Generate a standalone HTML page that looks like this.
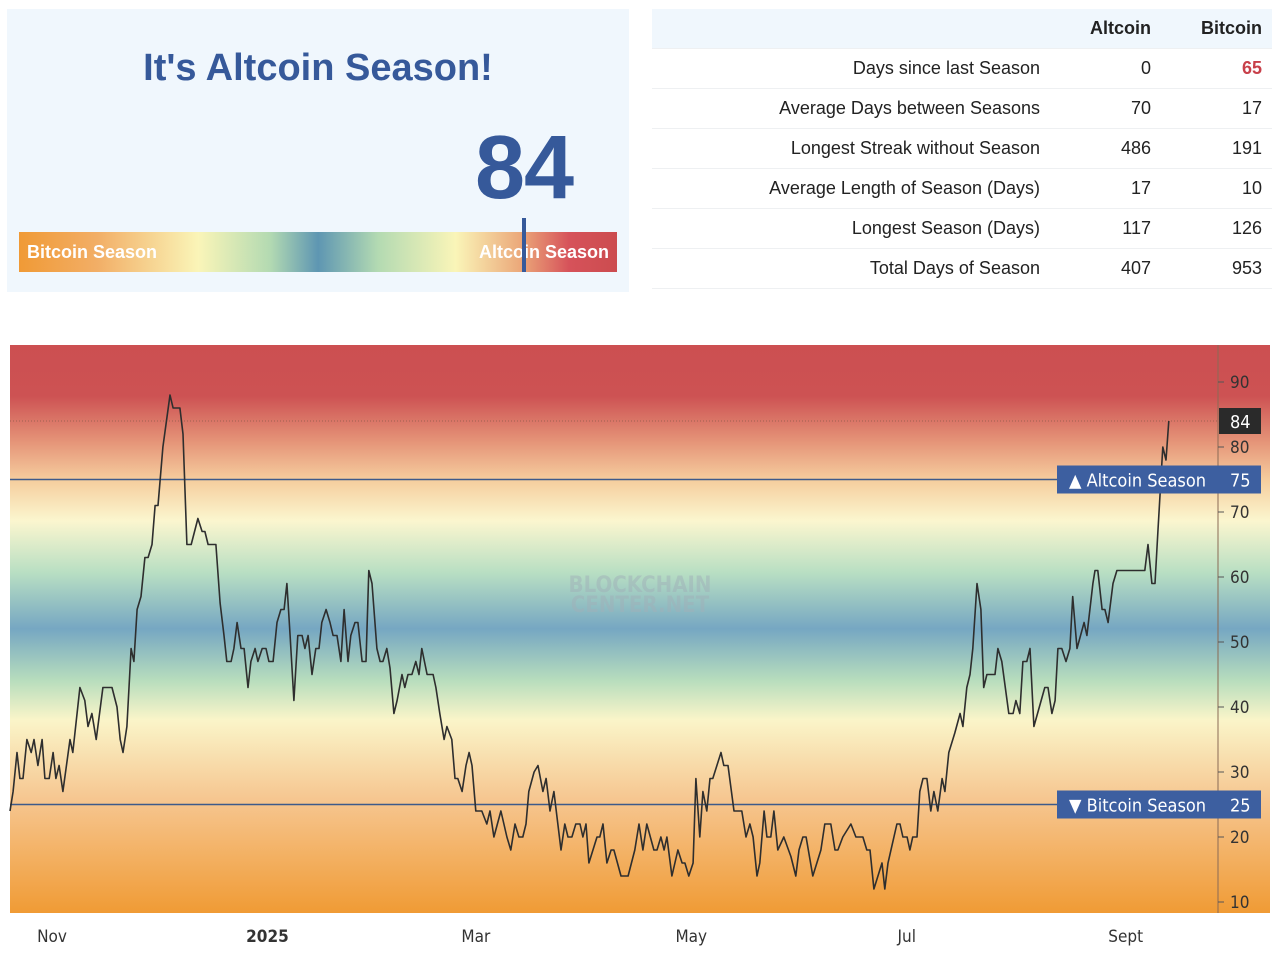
<!DOCTYPE html>
<html><head><meta charset="utf-8">
<style>
body{margin:0;width:1280px;height:962px;background:#fff;font-family:"Liberation Sans",sans-serif;overflow:hidden;position:relative}
#left{position:absolute;left:7px;top:9px;width:622px;height:283px;background:#f0f7fd}
#title{position:absolute;left:0;width:622px;top:38px;text-align:center;font-weight:bold;font-size:38px;color:#36599a}
#big{position:absolute;left:468px;top:108px;font-weight:bold;font-size:90px;color:#36599a;letter-spacing:-1px}
#bar{position:absolute;left:12px;top:223px;width:598px;height:40px;background:linear-gradient(90deg,#f09a36 0%,#f2ae66 13%,#faf5b8 30%,#b3dab2 42%,#5e96b2 50%,#b3dab2 60%,#faf5b8 73%,#eba779 84%,#d6525a 92%,#cc4c4f 100%)}
.bl{position:absolute;top:10px;color:#fff;font-weight:bold;font-size:18px}
#marker{position:absolute;left:503px;top:-14px;width:4px;height:54px;background:#36599a}
table{position:absolute;left:652px;top:9px;width:620px;border-collapse:collapse;font-size:18px;color:#222}
td,th{height:39px;padding:0;border-bottom:1px solid #eef0f2;text-align:right}
th{background:#f0f7fd;font-weight:bold}
.c1{width:388px}.c2{width:111px}.c3{width:111px;padding-right:10px}
#chart{position:absolute;left:0;top:330px}
</style></head><body>
<div id="left">
 <div id="title">It's Altcoin Season!</div>
 <div id="big">84</div>
 <div id="bar">
  <span class="bl" style="left:8px">Bitcoin Season</span>
  <span class="bl" style="right:8px">Altcoin Season</span>
  <div id="marker"></div>
 </div>
</div>
<table>
<tr><th class="c1"></th><th class="c2">Altcoin</th><th class="c3">Bitcoin</th></tr>
<tr><td class="c1">Days since last Season</td><td class="c2">0</td><td class="c3" style="color:#c8404a;font-weight:bold">65</td></tr>
<tr><td class="c1">Average Days between Seasons</td><td class="c2">70</td><td class="c3">17</td></tr>
<tr><td class="c1">Longest Streak without Season</td><td class="c2">486</td><td class="c3">191</td></tr>
<tr><td class="c1">Average Length of Season (Days)</td><td class="c2">17</td><td class="c3">10</td></tr>
<tr><td class="c1">Longest Season (Days)</td><td class="c2">117</td><td class="c3">126</td></tr>
<tr><td class="c1">Total Days of Season</td><td class="c2">407</td><td class="c3">953</td></tr>
</table>
<svg id="chart" width="1280" height="632" style="font-family:'DejaVu Sans Condensed','DejaVu Sans',sans-serif">
<defs><linearGradient id="bg" x1="0" y1="0" x2="0" y2="1">
<stop offset="0" stop-color="#cc4f51"/><stop offset="0.09" stop-color="#cd5253"/><stop offset="0.17" stop-color="#e59478"/>
<stop offset="0.24" stop-color="#f6cf9f"/><stop offset="0.31" stop-color="#fbf6cf"/><stop offset="0.40" stop-color="#b9dfc3"/>
<stop offset="0.50" stop-color="#76a7c2"/><stop offset="0.59" stop-color="#b7ddbd"/><stop offset="0.66" stop-color="#faf5c9"/>
<stop offset="0.80" stop-color="#f6c690"/><stop offset="1" stop-color="#f09b35"/></linearGradient></defs>
<rect x="10" y="15" width="1260" height="568" fill="url(#bg)"/>
<g id="g"></g>
</svg>
<script>
const days=[-11.9,-11,-9.9,-9.1,-8.2,-7.1,-5.9,-5.1,-4,-2.8,-2,-0.8,0.3,1.1,2,3.1,5.1,5.9,7.9,9.3,10.2,11.3,12.5,14.4,17,18.4,19.3,20.1,21.2,22.4,23.2,24.1,25.2,26.3,27.2,28.3,29.2,30,31.4,33.4,34.3,36.2,37.1,38.2,39.4,41.3,42.5,43.3,44.2,46.4,47.6,48.7,49.5,50.7,51.5,52.4,53.5,54.4,55.5,56.3,57.5,58.3,59.5,60.6,61.4,62.6,63.7,64.8,65.7,66.5,67.4,68.5,69.6,70.8,71.6,72.5,73.6,74.7,75.6,76.4,77.6,78.7,79.6,80.7,81.8,82.7,83.8,84.6,85.8,86.6,87.8,88.9,89.7,90.6,92,92.9,93.7,94.8,95.7,96.8,97.7,99.1,99.9,100.8,101.9,103,103.9,104.7,106.2,107.9,108.7,109.8,111,111.8,113.2,114.1,114.9,116.1,117.2,118.1,118.9,120,121.7,123.1,124,125.1,127.1,128.8,129.9,131.1,132.2,133.3,134.2,135,136.5,137.6,139,139.9,141,142.1,144.1,145.2,146.1,147.2,148.3,149.5,150.3,151.2,152,154.3,155.1,156,157.1,158.3,159.1,161.1,163.1,165,166.2,167.3,168.4,170.4,171.3,172.4,173.3,174.1,175.5,177.2,178.4,179.2,180.3,181.5,182.3,183.4,184.3,185.4,186.3,187.1,189.4,190.2,191.4,193.1,195.3,196.5,197.6,198.5,199.6,200.4,201.6,202.4,203.5,204.4,205.5,207.2,209.2,210.6,211.5,212.6,213.5,215.4,217.7,218.8,220.5,221.7,222.5,223.9,226.2,227.6,229.6,230.7,231.6,232.7,235,235.8,236.7,239.2,240.1,240.9,242.1,242.9,243.7,244.9,245.7,246.6,247.7,248.8,249.7,250.8,252,252.8,253.9,255.6,257.1,257.9,259,259.9,260.7,261.9,263,263.8,264.7,267,267.8,268.9,270.9,272.1,272.9,274,274.9,276,276.9,278,281.1,282,283.1,284,284.8,285.9,287.1,288.2,289,290.2,292.2,293,294.7,295.3,296.1,297.3,298.1,299,300.4,301.5,309.4,310.3,311.4,312.3,313.1,314.5,315.4,316.2];
const values=[24,27,33,29,29,35,33,35,31,35,29,29,33,29,31,27,35,33,43,41,37,39,35,43,43,40,35,33,37,49,47,55,57,63,63,65,71,71,80,88,86,86,82,65,65,69,67,67,65,65,56,51,47,47,49,53,49,49,43,47,49,47,49,49,47,47,53,55,55,59,51,41,51,51,49,51,45,49,49,53,55,53,51,51,47,55,47,51,53,53,47,47,61,59,49,47,47,49,46,39,41,45,43,45,45,47,45,49,45,45,43,39,35,37,35,29,29,27,31,33,31,24,24,22,24,20,24,20,18,22,20,20,22,27,30,31,27,29,24,27,18,22,20,20,22,22,20,22,16,20,20,22,16,18,18,14,14,18,22,18,22,18,18,20,18,20,14,18,16,16,14,16,29,20,27,24,29,29,33,31,31,24,24,20,22,20,14,16,24,20,20,24,18,20,17,14,18,20,20,14,18,22,22,18,18,20,22,20,20,18,18,12,16,12,16,22,22,20,20,18,20,20,27,29,29,24,27,24,29,27,33,36,39,37,43,45,49,59,55,43,45,45,49,47,39,39,41,39,47,47,49,37,43,43,39,41,49,49,47,49,57,49,53,51,59,61,61,55,55,53,59,61,61,65,59,59,67,80,78,84];
const yTicks=[10,20,30,40,50,60,70,80,90];
const xTickDays=[0,61,120,181,242,304];
const xTickLabels=["Nov","2025","Mar","May","Jul","Sept"];
const thresholds=[75,25];
const thresholdLabels=["▲ Altcoin Season","▼ Bitcoin Season"];
const current=84;
const NS="http://www.w3.org/2000/svg";
const g=document.getElementById('g');
const X=d=>52+d*3.532;
const Y=v=>572-(v-10)*6.5;
function mk(t,a,txt){const e=document.createElementNS(NS,t);for(const k in a)e.setAttribute(k,a[k]);if(txt!=null)e.textContent=txt;g.appendChild(e);return e;}
let e=mk('line',{x1:1218,x2:1218,y1:15,y2:583,stroke:'#8a6a55','stroke-width':1});


yTicks.forEach(v=>{
 let t=mk('line',{x1:1218,x2:1224,y1:Y(v),y2:Y(v),stroke:'#555'});
 
 
 let l=mk('text',{x:1230,y:Y(v)+6,'font-size':17,fill:'#333'},v);
 
 
});
xTickDays.forEach((d,i)=>{
 let l=mk('text',{x:X(d),y:612,'font-size':17,fill:'#333','text-anchor':'middle','font-weight':i==1?'bold':'normal'},xTickLabels[i]);
 
 
});
e=mk('line',{x1:10,x2:1218,y1:Y(current),y2:Y(current),stroke:'#8a5a4a','stroke-width':0.8,'stroke-dasharray':'1,2'});


thresholds.forEach((v,i)=>{
 let l=mk('line',{x1:10,x2:1218,y1:Y(v),y2:Y(v),stroke:'#3d5a8a','stroke-width':1.5});
 
 
});
const pts=days.map((d,i)=>X(d).toFixed(1)+','+Y(values[i]).toFixed(1)).join(' ');
e=mk('polyline',{points:pts,fill:'none',stroke:'#2e2e2e','stroke-width':1.6,'stroke-linejoin':'round'});


e=mk('text',{x:640,y:262,'font-size':22,fill:'#9fb0b8','fill-opacity':0.5,'text-anchor':'middle','font-weight':'bold'},'BLOCKCHAIN');


e=mk('text',{x:640,y:282,'font-size':22,fill:'#9fb0b8','fill-opacity':0.5,'text-anchor':'middle','font-weight':'bold'},'CENTER.NET');


thresholds.forEach((v,i)=>{
 let r=mk('rect',{x:1057,y:Y(v)-14,width:204,height:28,fill:'#3d5fa0'});
 
 
 let l=mk('text',{x:1069,y:Y(v)+7,'font-size':18,fill:'#fff'},thresholdLabels[i]);
 
 
 let n=mk('text',{x:1230,y:Y(v)+7,'font-size':18,fill:'#fff'},v);
 
 
});
e=mk('rect',{x:1219,y:Y(current)-13,width:42,height:26,fill:'#2a2a2a'});


e=mk('text',{x:1230,y:Y(current)+7,'font-size':18,fill:'#fff'},current);


</script>
</body></html>
